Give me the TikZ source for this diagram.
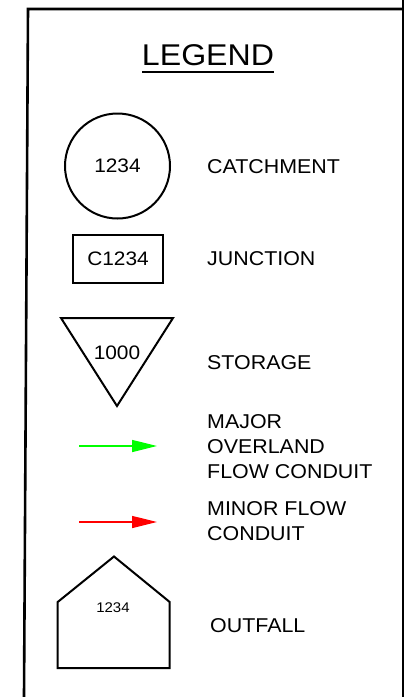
\documentclass[tikz,border=0pt]{standalone}
\usepackage{fontspec}
\setmainfont[FakeStretch=1.07]{Liberation Sans}
\usetikzlibrary{arrows.meta}
\definecolor{majorgreen}{RGB}{0,255,0}
\definecolor{minorred}{RGB}{255,0,0}
\begin{document}
\begin{tikzpicture}[x=1pt,y=-1pt,
  symbol/.style={draw,line width=2pt},
  lbl/.style={anchor=west,font=\fontsize{20}{25}\selectfont,align=left,inner sep=0pt},
  num/.style={font=\fontsize{19.5}{24}\selectfont,inner sep=0pt},
  smallnum/.style={font=\fontsize{14}{17}\selectfont,inner sep=0pt},
  frameline/.style={line width=2.6pt},
  conduit/.style={line width=1.3pt,-{Triangle[length=25pt,width=12pt]}}]
\useasboundingbox (0,0) rectangle (405,697);
% frame
\draw[frameline] (24,697) -- (28,9) -- (403,9);
\draw[frameline] (403,0) -- (403,697);
% title
\node[font=\fontsize{30}{33}\selectfont,inner sep=0pt] (legend) at (208,55) {LEGEND};
\draw[line width=2pt] (142,72) -- (274,72);
% catchment
\node[symbol,circle,minimum size=105pt,num] (catch) at (117.5,166) {1234};
\node[lbl] (catchlbl) at (207,167) {CATCHMENT};
% junction
\node[symbol,rectangle,minimum width=90pt,minimum height=48pt,num] (junc) at (118,259) {C1234};
\node[lbl] (junclbl) at (207,259) {JUNCTION};
% storage
\draw[symbol] (61,318) -- (173,318) -- (117,406) -- cycle;
\node[num] (stor) at (117,353) {1000};
\node[lbl] (storlbl) at (207,363) {STORAGE};
% major conduit
\coordinate (g1) at (79,446);
\coordinate (g2) at (157,446);
\draw[conduit,majorgreen] (g1) -- (g2);
\node[lbl] (majlbl) at (207,447) {MAJOR\\OVERLAND\\FLOW CONDUIT};
% minor conduit
\coordinate (r1) at (79,522);
\coordinate (r2) at (157,522);
\draw[conduit,minorred] (r1) -- (r2);
\node[lbl] (minlbl) at (207,521.5) {MINOR FLOW\\CONDUIT};
% outfall
\draw[symbol] (57.7,668) -- (57.7,602) -- (114,556.5) -- (169.7,602) -- (169.7,668) -- cycle;
\node[smallnum] (outnum) at (113,608) {1234};
\node[lbl] (outlbl) at (210,626) {OUTFALL};
\end{tikzpicture}
\end{document}
